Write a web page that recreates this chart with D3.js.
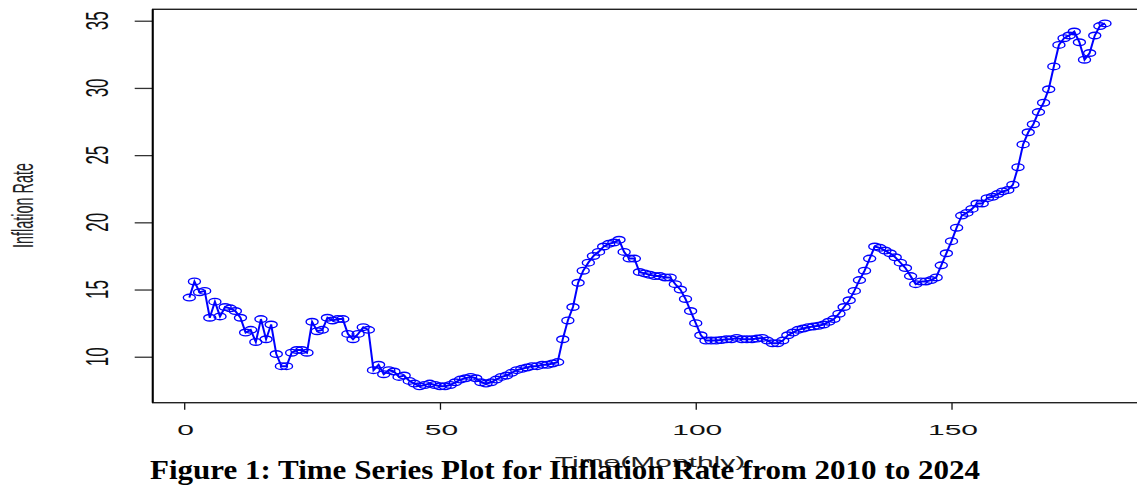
<!DOCTYPE html>
<html>
<head>
<meta charset="utf-8">
<script src="https://cdn.jsdelivr.net/npm/d3@7/dist/d3.min.js"></script>
<style>
  body { margin: 0; background: #fff; }
  svg { display: block; }
</style>
</head>
<body>
<svg id="chart" width="1137" height="486"></svg>
<script>
// monthly inflation rate, 2010 - 2024 (180 obs)
var months = d3.range(1, 181);
var inflation = [
  14.4, 15.6, 14.8, 14.9, 12.9, 14.1, 13.0, 13.7, 13.6, 13.4,
  12.9, 11.8, 12.0, 11.1, 12.8, 11.3, 12.4, 10.2, 9.3, 9.3,
  10.3, 10.5, 10.5, 10.3, 12.6, 11.9, 12.0, 12.9, 12.7, 12.8,
  12.8, 11.7, 11.3, 11.7, 12.2, 12.0, 9.0, 9.4, 8.7, 9.0,
  8.9, 8.5, 8.6, 8.2, 8.0, 7.8, 7.9, 8.0, 7.9, 7.8,
  7.8, 7.9, 8.1, 8.3, 8.4, 8.5, 8.4, 8.1, 8.0, 8.1,
  8.3, 8.5, 8.6, 8.8, 9.0, 9.1, 9.2, 9.3, 9.3, 9.4,
  9.4, 9.5, 9.6, 11.3, 12.7, 13.7, 15.5, 16.4, 17.0, 17.5,
  17.8, 18.2, 18.4, 18.5, 18.7, 17.8, 17.3, 17.3, 16.3, 16.2,
  16.1, 16.0, 16.0, 15.9, 15.9, 15.4, 15.0, 14.3, 13.4, 12.5,
  11.6, 11.2, 11.2, 11.2, 11.25, 11.3, 11.3, 11.4, 11.3, 11.3,
  11.3, 11.35, 11.4, 11.2, 11.0, 11.0, 11.2, 11.6, 11.8, 12.0,
  12.1, 12.2, 12.25, 12.3, 12.4, 12.6, 12.8, 13.2, 13.7, 14.2,
  14.9, 15.7, 16.4, 17.3, 18.2, 18.1, 17.9, 17.7, 17.4, 17.0,
  16.6, 16.0, 15.4, 15.6, 15.6, 15.7, 15.9, 16.8, 17.7, 18.6,
  19.6, 20.5, 20.7, 21.0, 21.4, 21.4, 21.8, 21.9, 22.1, 22.3,
  22.4, 22.8, 24.1, 25.8, 26.7, 27.3, 28.2, 28.9, 29.9, 31.6,
  33.2, 33.7, 33.9, 34.2, 33.4, 32.1, 32.6, 33.9, 34.6, 34.8
];
var xTicks = [0, 50, 100, 150];
var yTicks = [10, 15, 20, 25, 30, 35];

var svg = d3.select("#chart");

// plot region (R style, 4% padding, stretched wide)
var x = d3.scaleLinear().domain([-6.16, 187.16]).range([152.7, 1141.6]);
var y = d3.scaleLinear().domain([6.58, 35.85]).range([402.7, 9.3]);

// x axis ticks
var xAxis = svg.append("g")
  .attr("transform", "translate(0," + y.range()[0] + ")")
  .call(d3.axisBottom(x).tickValues(xTicks).tickSize(7).tickFormat(""));
xAxis.select(".domain").remove();
xAxis.selectAll("line").attr("stroke", "#111").attr("stroke-width", 1.3);

svg.append("g").selectAll("text")
  .data(xTicks).enter().append("text")
  .attr("transform", function(d){ return "translate(" + (x(d) + 1.5) + ",435) scale(2,1)"; })
  .attr("text-anchor", "middle")
  .style("font-family", "'Liberation Sans', Arial, sans-serif")
  .style("font-size", "15px")
  .attr("fill", "#111")
  .text(function(d){ return d; });

// y axis ticks
var yAxis = svg.append("g")
  .attr("transform", "translate(" + x.range()[0] + ",0)")
  .call(d3.axisLeft(y).tickValues(yTicks).tickSize(18).tickFormat(""));
yAxis.select(".domain").remove();
yAxis.selectAll("line").attr("stroke", "#333").attr("stroke-width", 1.3);

svg.append("g").selectAll("text")
  .data(yTicks).enter().append("text")
  .attr("transform", function(d){ return "translate(107.5," + y(d) + ") scale(1.9,1) rotate(-90)"; })
  .attr("text-anchor", "middle")
  .style("font-family", "'Liberation Sans', Arial, sans-serif")
  .style("font-size", "17px")
  .attr("fill", "#111")
  .text(function(d){ return d; });

// axis titles
svg.append("text")
  .attr("transform", "translate(33,205.5) scale(2,1) rotate(-90)")
  .attr("text-anchor", "middle")
  .style("font-family", "'Liberation Sans', Arial, sans-serif")
  .style("font-size", "14.4px")
  .attr("fill", "#222")
  .text("Inflation Rate");

svg.append("text")
  .attr("transform", "translate(650,467) scale(2,1)")
  .attr("text-anchor", "middle")
  .style("font-family", "'Liberation Sans', Arial, sans-serif")
  .style("font-size", "15px")
  .attr("fill", "#222")
  .text("Time(Monthly)");

// series
var pts = months.map(function(m, i){ return {t: m, v: inflation[i]}; });

var line = d3.line()
  .x(function(d){ return x(d.t); })
  .y(function(d){ return y(d.v); });

svg.append("path")
  .datum(pts)
  .attr("d", line)
  .attr("fill", "none")
  .attr("stroke", "#0000ff")
  .attr("stroke-width", 2);

svg.append("g").selectAll("ellipse")
  .data(pts).enter().append("ellipse")
  .attr("cx", function(d){ return x(d.t); })
  .attr("cy", function(d){ return y(d.v); })
  .attr("rx", 6)
  .attr("ry", 3.3)
  .attr("fill", "none")
  .attr("stroke", "#0000ff")
  .attr("stroke-width", 1.4);

// box
svg.append("rect")
  .attr("x", x.range()[0])
  .attr("y", y.range()[1])
  .attr("width", x.range()[1] - x.range()[0])
  .attr("height", y.range()[0] - y.range()[1])
  .attr("fill", "none")
  .attr("stroke", "#222")
  .attr("stroke-width", 1.4);
svg.append("line")
  .attr("x1", x.range()[0]).attr("x2", x.range()[0])
  .attr("y1", y.range()[1]).attr("y2", y.range()[0])
  .attr("stroke", "#000").attr("stroke-width", 2);

// caption
svg.append("text")
  .attr("x", 150)
  .attr("y", 479)
  .attr("textLength", 830)
  .attr("lengthAdjust", "spacingAndGlyphs")
  .style("font-family", "'Liberation Serif', 'Times New Roman', serif")
  .style("font-weight", "bold")
  .style("font-size", "27px")
  .attr("fill", "#000")
  .text("Figure 1: Time Series Plot for Inflation Rate from 2010 to 2024");
</script>
</body>
</html>
